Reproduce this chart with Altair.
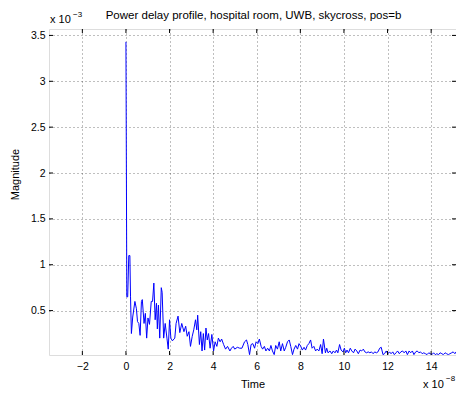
import altair as alt
import pandas as pd

# time in units of 1e-8 s, magnitude in units of 1e-3
time_e8 = [
    0.00, 0.04, 0.08, 0.13, 0.18, 0.21, 0.25, 0.31, 0.41, 0.48, 0.53, 0.59, 0.65, 0.71, 0.75,
    0.83, 0.89, 0.95, 1.01, 1.08, 1.16, 1.22, 1.28, 1.34, 1.40, 1.44, 1.49, 1.55, 1.62, 1.66,
    1.73, 1.80, 1.88, 1.94, 2.00, 2.06, 2.13, 2.24, 2.30, 2.39, 2.47, 2.56, 2.66, 2.74, 2.81,
    2.89, 2.96, 3.04, 3.11, 3.19, 3.25, 3.29, 3.37, 3.43, 3.49, 3.55, 3.61, 3.67, 3.73, 3.79,
    3.86, 3.94, 4.02, 4.09, 4.17, 4.24, 4.32, 4.39, 4.48, 4.57, 4.66, 4.77, 4.84, 4.92, 4.99,
    5.11, 5.22, 5.32, 5.44, 5.53, 5.59, 5.67, 5.74, 5.82, 5.90, 5.97, 6.05, 6.12, 6.20, 6.27,
    6.35, 6.42, 6.50, 6.58, 6.65, 6.72, 6.80, 6.87, 6.95, 7.03, 7.10, 7.18, 7.26, 7.33, 7.41,
    7.49, 7.56, 7.64, 7.71, 7.79, 7.87, 7.94, 8.02, 8.09, 8.17, 8.24, 8.32, 8.39, 8.47, 8.54,
    8.62, 8.70, 8.77, 8.85, 8.93, 9.00, 9.06, 9.15, 9.21, 9.27, 9.36, 9.44, 9.51, 9.59, 9.66,
    9.72, 9.80, 9.87, 9.95, 10.02, 10.08, 10.14, 10.21, 10.29, 10.36, 10.44, 10.51, 10.59, 10.66, 10.74,
    10.81, 10.89, 10.96, 11.04, 11.11, 11.19, 11.26, 11.34, 11.41, 11.49, 11.56, 11.64, 11.71, 11.79, 11.86,
    11.94, 12.01, 12.09, 12.16, 12.24, 12.31, 12.39, 12.46, 12.54, 12.61, 12.69, 12.76, 12.84, 12.91, 12.99,
    13.06, 13.14, 13.21, 13.29, 13.36, 13.44, 13.51, 13.59, 13.66, 13.74, 13.81, 13.89, 13.96, 14.04, 14.11,
    14.19, 14.26, 14.34, 14.41, 14.49, 14.56, 14.64, 14.71, 14.79, 14.86, 14.94, 15.01, 15.09, 15.14,
]
magnitude_e3 = [
    3.43, 0.65, 0.65, 1.10, 1.10, 0.65, 0.25, 0.43, 0.60, 0.52, 0.38, 0.36, 0.23, 0.60, 0.62,
    0.36, 0.47, 0.20, 0.42, 0.35, 0.60, 0.60, 0.80, 0.40, 0.58, 0.30, 0.56, 0.20, 0.75, 0.70,
    0.20, 0.36, 0.20, 0.08, 0.40, 0.20, 0.17, 0.20, 0.36, 0.44, 0.26, 0.36, 0.27, 0.33, 0.22,
    0.27, 0.11, 0.22, 0.29, 0.40, 0.29, 0.45, 0.13, 0.27, 0.06, 0.25, 0.07, 0.31, 0.18, 0.25,
    0.09, 0.24, 0.06, 0.16, 0.11, 0.20, 0.16, 0.19, 0.13, 0.08, 0.11, 0.06, 0.09, 0.11, 0.08,
    0.10, 0.09, 0.09, 0.16, 0.18, 0.13, 0.02, 0.13, 0.14, 0.09, 0.16, 0.14, 0.19, 0.11, 0.08,
    0.11, 0.06, 0.09, 0.06, 0.12, 0.06, 0.02, 0.12, 0.08, 0.16, 0.06, 0.14, 0.06, 0.10, 0.16,
    0.18, 0.11, 0.02, 0.08, 0.12, 0.08, 0.14, 0.11, 0.07, 0.10, 0.07, 0.12, 0.14, 0.18, 0.09,
    0.11, 0.06, 0.08, 0.06, 0.13, 0.03, 0.19, 0.04, 0.09, 0.04, 0.06, 0.03, 0.06, 0.04, 0.07,
    0.04, 0.13, 0.07, 0.05, 0.09, 0.04, 0.07, 0.04, 0.09, 0.06, 0.04, 0.08, 0.06, 0.03, 0.07,
    0.06, 0.08, 0.05, 0.04, 0.05, 0.04, 0.05, 0.03, 0.05, 0.04, 0.05, 0.09, 0.10, 0.02, 0.03,
    0.06, 0.03, 0.05, 0.03, 0.05, 0.02, 0.04, 0.06, 0.03, 0.05, 0.06, 0.04, 0.06, 0.02, 0.06,
    0.04, 0.06, 0.02, 0.05, 0.06, 0.04, 0.05, 0.03, 0.04, 0.03, 0.02, 0.04, 0.03, 0.02, 0.04,
    0.02, 0.03, 0.02, 0.04, 0.03, 0.02, 0.04, 0.03, 0.02, 0.03, 0.04, 0.05, 0.03, 0.05,
]

x_ticks = [-2, 0, 2, 4, 6, 8, 10, 12, 14]
y_ticks = [0.5, 1, 1.5, 2, 2.5, 3, 3.5]
x_domain = [-3.53, 15.14]
y_domain = [0.016, 3.57]

title_text = "Power delay profile, hospital room, UWB, skycross, pos=b"
FONT = "Liberation Sans"
W, H = 407, 326

df = pd.DataFrame({"t": time_e8, "v": magnitude_e3})
xt = pd.DataFrame({"t": x_ticks})
yt = pd.DataFrame({"v": y_ticks})

xs = alt.Scale(domain=x_domain, nice=False, zero=False)
ys = alt.Scale(domain=y_domain, nice=False, zero=False)

x_axis = alt.Axis(
    values=x_ticks, format="~g", title="Time", grid=True, ticks=False, tickSize=0,
    domain=False, labelFont=FONT, labelFontSize=10.5, labelColor="#000", labelPadding=6,
    labelFlush=False, titleFont=FONT, titleFontSize=11, titleFontWeight="normal",
    titleColor="#000", titleX=W / 2, titleY=32, titleBaseline="alphabetic",
    gridColor="#000", gridOpacity=0.5, gridDash=[1, 3], gridWidth=1)
y_axis = alt.Axis(
    values=y_ticks, format="~g", title="Magnitude", grid=True, ticks=False, tickSize=0,
    domain=False, labelFont=FONT, labelFontSize=10.5, labelColor="#000", labelPadding=4,
    labelFlush=False, titleFont=FONT, titleFontSize=11, titleFontWeight="normal",
    titleColor="#000", titleX=-31, titleY=145, titleAngle=270, titleAlign="center",
    titleBaseline="alphabetic",
    gridColor="#000", gridOpacity=0.5, gridDash=[1, 3], gridWidth=1)

line = alt.Chart(df).mark_line(color="#0000ff", strokeWidth=1, clip=True).encode(
    x=alt.X("t:Q", scale=xs, axis=x_axis),
    y=alt.Y("v:Q", scale=ys, axis=y_axis),
)

tick_color = "#000"
xb = alt.Chart(xt).mark_rule(color=tick_color, strokeWidth=1).encode(
    x=alt.X("t:Q", scale=xs, axis=x_axis), y=alt.value(H), y2=alt.value(H - 4))
xtop = alt.Chart(xt).mark_rule(color=tick_color, strokeWidth=1).encode(
    x=alt.X("t:Q", scale=xs, axis=x_axis), y=alt.value(0), y2=alt.value(4))
yl = alt.Chart(yt).mark_rule(color=tick_color, strokeWidth=1).encode(
    y=alt.Y("v:Q", scale=ys, axis=y_axis), x=alt.value(0), x2=alt.value(4))
yr = alt.Chart(yt).mark_rule(color=tick_color, strokeWidth=1).encode(
    y=alt.Y("v:Q", scale=ys, axis=y_axis), x=alt.value(W), x2=alt.value(W - 4))

anno = pd.DataFrame({"a": [0]})
def label(text, size, x, y):
    return alt.Chart(anno).mark_text(text=text, font=FONT, fontSize=size, align="left",
                                     baseline="alphabetic", color="#000").encode(
        x=alt.value(x), y=alt.value(y))

title_mark = alt.Chart(anno).mark_text(text=title_text, font=FONT, fontSize=11.5, align="center",
                                       baseline="alphabetic", color="#000").encode(
    x=alt.value(W / 2 + 1), y=alt.value(-10))

chart = alt.layer(
    line, xb, xtop, yl, yr,
    label("x 10", 11, 1, -6), label("\u22123", 8, 24, -12),
    label("x 10", 11, 374, 359), label("\u22128", 8, 397, 352),
    title_mark,
).properties(
    width=W, height=H,
    autosize=alt.AutoSizeParams(type="none"),
    padding={"left": 41, "top": 21, "right": 0, "bottom": 36},
).configure_view(stroke="#000", strokeWidth=1).configure(background="#ffffff")

chart.save("out.html", embed_options={"renderer": "svg", "actions": False})
